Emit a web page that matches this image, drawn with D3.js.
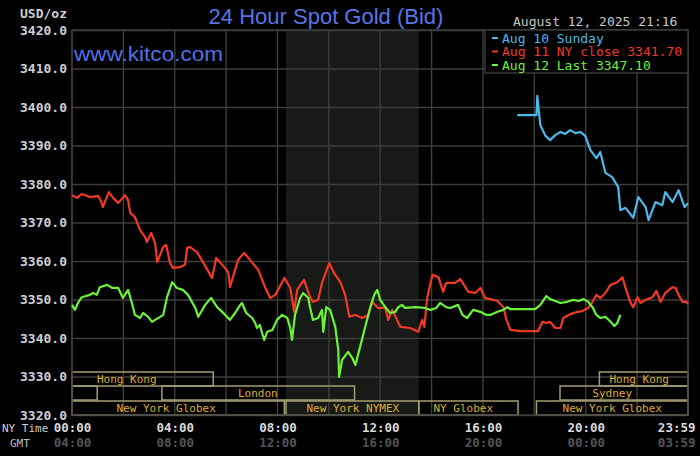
<!doctype html>
<html lang="en">
<head>
<meta charset="utf-8">
<title>24 Hour Spot Gold (Bid)</title>
<script src="https://cdn.jsdelivr.net/npm/d3@7"></script>
<style>
    body { margin: 0; background: #000; }
    svg { display: block; }
    .mono { font-family: "DejaVu Sans Mono", monospace; }
</style>
</head>
<body>
<script>
    // minutes after 00:00 NY time, and bid price
    var aug10Time = [1040,1085,1087,1094,1106,1117,1129,1141,1152,1164,1176,1188,1199,1211,1225,1234,1246,1262,1276,1281,1293,1311,1323,1340,1347,1363,1379,1386,1403,1417,1431,1439];
    var aug10Price = [3397.9,3397.9,3402.9,3395.3,3392.5,3391.4,3392.7,3393.5,3393.0,3394.0,3393.2,3393.5,3392.5,3388.8,3386.7,3388.3,3382.9,3381.8,3379.2,3373.2,3373.8,3371.2,3376.6,3374.0,3370.6,3375.3,3374.5,3377.9,3375.3,3378.4,3374.0,3375.0];

    var aug11Time = [0,12,23,42,61,68,72,86,96,108,124,131,136,147,159,171,175,185,194,199,213,220,229,236,252,264,269,276,292,306,327,337,351,365,369,376,388,402,416,435,451,463,475,496,510,519,526,542,556,563,575,584,601,612,627,638,648,662,678,692,701,715,732,739,748,767,790,809,818,823,830,842,856,867,874,895,907,926,942,954,965,977,994,1008,1015,1024,1047,1071,1089,1099,1108,1117,1129,1141,1148,1164,1181,1192,1206,1216,1225,1234,1246,1258,1274,1286,1293,1304,1311,1321,1328,1340,1356,1365,1375,1386,1403,1410,1417,1426,1435,1439];
    var aug11Price = [3377.1,3376.4,3377.4,3376.6,3376.9,3375.5,3374.0,3377.9,3376.4,3375.1,3377.1,3375.8,3372.5,3371.4,3368.0,3366.2,3364.9,3367.3,3364.7,3359.7,3363.6,3364.2,3359.5,3358.2,3358.4,3359.0,3363.4,3363.6,3362.3,3359.7,3355.6,3360.8,3359.0,3357.1,3353.2,3355.8,3360.3,3362.1,3360.3,3357.7,3353.2,3350.4,3351.2,3355.6,3353.0,3346.8,3352.5,3355.1,3350.6,3349.4,3349.9,3354.3,3359.5,3356.9,3354.5,3351.2,3345.5,3346.0,3345.2,3346.0,3349.4,3347.8,3347.8,3344.7,3347.3,3342.9,3342.6,3341.6,3344.7,3342.9,3350.6,3356.4,3355.8,3352.0,3354.3,3354.3,3355.3,3352.0,3351.7,3353.0,3350.4,3350.1,3349.6,3348.0,3344.7,3342.1,3341.8,3341.8,3341.8,3344.2,3343.9,3344.2,3342.6,3342.6,3345.2,3346.2,3346.8,3347.0,3347.8,3349.4,3351.2,3350.4,3351.7,3353.8,3354.5,3355.8,3353.0,3349.4,3348.0,3350.6,3349.1,3349.9,3350.6,3352.2,3349.4,3351.7,3353.2,3353.0,3351.2,3349.4,3349.4,3348.8];

    var aug12Time = [0,7,14,23,42,49,58,65,82,94,108,119,131,140,147,159,166,178,187,194,206,213,222,234,245,259,271,288,295,311,325,339,346,358,369,381,393,397,407,421,428,432,439,444,449,456,468,479,491,503,510,514,521,533,540,552,556,563,575,584,587,594,603,615,622,624,631,645,655,662,673,685,697,706,713,720,732,743,755,762,771,778,802,825,837,851,860,874,884,902,912,923,937,954,968,977,994,1008,1017,1024,1047,1082,1094,1108,1117,1129,1141,1157,1171,1183,1195,1206,1216,1225,1234,1246,1258,1267,1274,1281];
    var aug12Price = [3348.6,3347.3,3349.1,3350.6,3351.2,3351.7,3351.2,3353.2,3353.8,3353.0,3353.0,3350.4,3352.5,3349.1,3346.0,3345.2,3346.5,3345.5,3344.2,3344.7,3345.5,3346.0,3350.6,3354.5,3353.0,3352.5,3351.2,3347.8,3345.5,3348.6,3350.4,3348.0,3347.3,3346.0,3344.7,3346.5,3348.6,3349.1,3346.5,3345.2,3343.9,3342.6,3343.4,3341.3,3339.5,3341.6,3342.1,3344.7,3346.0,3345.2,3342.6,3339.5,3346.0,3350.4,3351.7,3350.4,3348.0,3344.7,3345.2,3347.3,3341.6,3348.0,3347.3,3342.9,3336.9,3329.9,3334.3,3336.4,3334.8,3333.0,3337.7,3342.9,3348.0,3351.2,3352.5,3349.9,3348.0,3346.5,3346.8,3348.0,3348.6,3347.8,3348.0,3347.8,3347.3,3347.8,3349.1,3348.0,3347.8,3348.6,3346.0,3345.2,3347.3,3346.8,3346.0,3346.0,3346.8,3347.3,3348.0,3347.5,3347.5,3347.5,3348.6,3350.9,3350.1,3349.6,3349.1,3349.4,3349.9,3349.6,3350.1,3349.4,3348.0,3346.0,3345.2,3345.5,3344.2,3343.1,3343.9,3346.0];

    var legendLabels = ["Aug 10 Sunday", "Aug 11 NY close 3341.70", "Aug 12 Last 3347.10"];
    var priceTicks = [3320,3330,3340,3350,3360,3370,3380,3390,3400,3410,3420];
    var hourTicks = [0,240,480,720,960,1200,1439];
    var nyLabels = ["00:00","04:00","08:00","12:00","16:00","20:00","23:59"];
    var gmtLabels = ["04:00","08:00","12:00","16:00","20:00","00:00","03:59"];

    // trading sessions: row, start and end minute, label minute
    var sessionNames = ["Hong Kong", "Hong Kong", "", "London", "Sydney", "New York Globex", "New York NYMEX", "NY Globex", "New York Globex"];
    var sessionRow   = [0, 0, 1, 1, 1, 2, 2, 2, 2];
    var sessionStart = [0, 1232, 0, 210, 1140, 0, 500, 810, 1085];
    var sessionEnd   = [330, 1439, 59, 660, 1439, 496, 810, 1042, 1439];
    var sessionMid   = [128, 1325, 30, 434, 1262, 220, 656, 914, 1262];
    var nymexOpen = [500, 810];

    var W = 700, H = 456;
    var svg = d3.select("body").append("svg").attr("width", W).attr("height", H)
        .style("background", "#000");

    var x = d3.scaleLinear().domain([0, 1439]).range([72, 688]);
    var y = d3.scaleLinear().domain([3320, 3420]).range([415, 30]);

    // NYMEX hours shading
    svg.append("rect")
        .attr("x", x(nymexOpen[0])).attr("y", y(3420))
        .attr("width", x(nymexOpen[1]) - x(nymexOpen[0]))
        .attr("height", y(3320) - y(3420))
        .attr("fill", "#171a17");

    // vertical grid every 2 hours
    svg.append("g").selectAll("line")
        .data(d3.range(0, 1440, 120).concat([1439]))
        .enter().append("line")
        .attr("x1", function(d){ return x(d); }).attr("x2", function(d){ return x(d); })
        .attr("y1", y(3420)).attr("y2", y(3320))
        .attr("stroke", "#3d3d3d").attr("stroke-width", 1.4);

    // price axis with horizontal grid
    var yAxis = svg.append("g").attr("transform", "translate(72,0)")
        .call(d3.axisLeft(y).tickValues(priceTicks).tickFormat(d3.format(".1f"))
            .tickSize(-616).tickPadding(5));
    yAxis.select(".domain").remove();
    yAxis.selectAll("line").attr("stroke", "#3d3d3d").attr("stroke-width", 1.4);
    yAxis.selectAll("text").attr("class", "mono").attr("fill", "#cfcfcf")
        .style("font-size", "13px").style("font-weight", "bold");

    svg.append("text").attr("class", "mono").attr("x", 67).attr("y", 18)
        .attr("text-anchor", "end").attr("fill", "#cfcfcf")
        .style("font-size", "13px").style("font-weight", "bold").text("USD/oz");

    // session boxes
    var rowTop = [372, 386, 401], rowH = 14;
    var sessions = svg.append("g");
    sessionNames.forEach(function(name, i){
        sessions.append("rect")
            .attr("x", x(sessionStart[i])).attr("y", rowTop[sessionRow[i]])
            .attr("width", x(sessionEnd[i]) - x(sessionStart[i])).attr("height", rowH)
            .attr("fill", "none").attr("stroke", "#a49d72").attr("stroke-width", 1.5);
        sessions.append("text").attr("class", "mono")
            .attr("x", x(sessionMid[i])).attr("y", rowTop[sessionRow[i]] + 11)
            .attr("text-anchor", "middle").attr("fill", "#dcae2e")
            .style("font-size", "11px").text(name);
    });

    // plot frame
    svg.append("rect").attr("x", 72).attr("y", 30).attr("width", 616).attr("height", 385)
        .attr("fill", "none").attr("stroke", "#3d3d3d").attr("stroke-width", 1.4);

    // price lines
    var line = d3.line()
        .x(function(d){ return x(d[0]); })
        .y(function(d){ return y(d[1]); });

    var series = [
        {t: aug10Time, p: aug10Price, c: "#4cb9ea"},
        {t: aug11Time, p: aug11Price, c: "#f03a26"},
        {t: aug12Time, p: aug12Price, c: "#6cf23a"}
    ];
    [1, 2, 0].forEach(function(k){
        var s = series[k];
        svg.append("path")
            .attr("d", line(d3.zip(s.t, s.p)))
            .attr("fill", "none").attr("stroke", s.c)
            .attr("stroke-width", 2.2).attr("stroke-linejoin", "round");
    });

    // time axes, NY on top and GMT below
    var xAxis = svg.append("g").attr("transform", "translate(0,415)")
        .call(d3.axisBottom(x).tickValues(hourTicks)
            .tickFormat(function(d, i){ return nyLabels[i]; }).tickSize(0).tickPadding(8));
    xAxis.select(".domain").remove();
    xAxis.selectAll("text").attr("class", "mono").attr("fill", "#dadada")
        .style("font-size", "12.5px").style("font-weight", "bold");

    var gmtAxis = svg.append("g").attr("transform", "translate(0,415)")
        .call(d3.axisBottom(x).tickValues(hourTicks)
            .tickFormat(function(d, i){ return gmtLabels[i]; }).tickSize(0).tickPadding(23));
    gmtAxis.select(".domain").remove();
    gmtAxis.selectAll("text").attr("class", "mono").attr("fill", "#555")
        .style("font-size", "12.5px").style("font-weight", "bold");

    [xAxis, gmtAxis].forEach(function(a){
        a.selectAll(".tick").filter(function(d){ return d === 1439; })
            .select("text").attr("text-anchor", "end").attr("dx", 7);
    });

    svg.append("text").attr("class", "mono").attr("x", 2).attr("y", 432)
        .attr("fill", "#cfcfcf").style("font-size", "11px").text("NY Time");
    svg.append("text").attr("class", "mono").attr("x", 10).attr("y", 447)
        .attr("fill", "#bdbdbd").style("font-size", "11px").text("GMT");

    // legend
    svg.append("rect").attr("x", 485).attr("y", 30).attr("width", 203).attr("height", 43)
        .attr("fill", "#000").attr("stroke", "#3d3d3d").attr("stroke-width", 1.4);
    legendLabels.forEach(function(lab, i){
        var yy = 38 + i * 13.5;
        svg.append("line").attr("x1", 492).attr("x2", 498).attr("y1", yy).attr("y2", yy)
            .attr("stroke", series[i].c).attr("stroke-width", 2);
        svg.append("text").attr("class", "mono").attr("x", 502).attr("y", yy + 4.5)
            .attr("fill", series[i].c).style("font-size", "13px").text(lab);
    });

    svg.append("text").attr("class", "mono").attr("x", 513).attr("y", 26)
        .attr("fill", "#c8c8c8").style("font-size", "13px").text("August 12, 2025 21:16");

    // titles
    svg.append("text").attr("x", 326).attr("y", 24).attr("text-anchor", "middle")
        .attr("fill", "#5a74e8").style("font-family", "'Liberation Sans', Arial, sans-serif")
        .style("font-size", "22px").text("24 Hour Spot Gold (Bid)");
    svg.append("text").attr("x", 74).attr("y", 61)
        .attr("fill", "#5070e6").style("font-family", "'Liberation Sans', Arial, sans-serif")
        .style("font-size", "21px").attr("textLength", 149).attr("lengthAdjust", "spacingAndGlyphs")
        .text("www.kitco.com");
</script>
</body>
</html>
